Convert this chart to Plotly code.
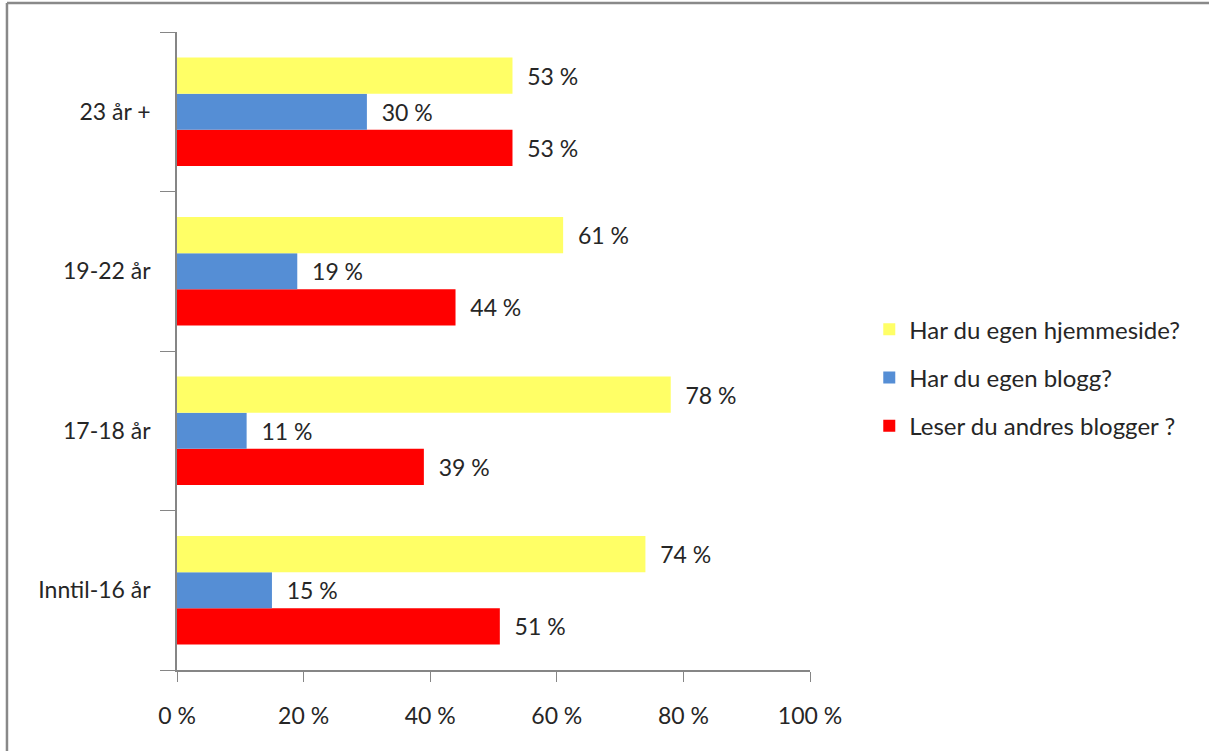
import plotly.graph_objects as go

categories = ["Inntil-16 år", "17-18 år", "19-22 år", "23 år +"]
series_names = ["Har du egen hjemmeside?", "Har du egen blogg?", "Leser du andres blogger ?"]
hjemmeside = [74, 78, 61, 53]
blogg = [15, 11, 19, 30]
leser = [51, 39, 44, 53]
colors = ["#FFFF66", "#558ED5", "#FF0000"]
x_ticks = [0, 20, 40, 60, 80, 100]

FONT = "Lato, Open Sans, sans-serif"
TXT = "#262626"
FS = 23

fig = go.Figure()
# traces added bottom-to-top within each group (red at bottom, yellow on top)
for rank, name, vals, col in [(3, series_names[2], leser, colors[2]),
                              (2, series_names[1], blogg, colors[1]),
                              (1, series_names[0], hjemmeside, colors[0])]:
    fig.add_trace(go.Bar(
        y=categories, x=[v / 100 for v in vals], name=name, orientation="h",
        legendgroup=name, legendrank=rank,
        marker=dict(color=col, line=dict(width=0)),
        text=["\u00a0\u00a0" + f"{v} %" for v in vals],
        textposition="outside", cliponaxis=False,
        textfont=dict(family=FONT, size=FS, color=TXT),
    ))

fig.update_layout(
    width=1209, height=751,
    margin=dict(l=177, r=399, t=32, b=81),
    paper_bgcolor="white", plot_bgcolor="white",
    barmode="group", bargap=0.32, bargroupgap=0,
    font=dict(family=FONT, size=FS, color=TXT),
    showlegend=True,
    legend=dict(traceorder="grouped", xref="container", yref="container",
                x=0.719, y=0.497, xanchor="left", yanchor="middle",
                font=dict(family=FONT, size=24, color=TXT),
                itemsizing="constant", tracegroupgap=14, itemwidth=30,
                bgcolor="rgba(0,0,0,0)"),
    xaxis=dict(range=[0, 1], tickvals=[t / 100 for t in x_ticks],
               ticktext=[f"{t} %" for t in x_ticks],
               showgrid=False, zeroline=False, showline=True, linecolor="#868686",
               linewidth=1.5, ticks="outside", ticklen=10, tickcolor="#868686",
               ticklabelstandoff=15, tickfont=dict(family=FONT, size=FS, color=TXT)),
    yaxis=dict(categoryorder="array", categoryarray=categories,
               showgrid=False, zeroline=False, showline=True, linecolor="#868686",
               linewidth=1.5, ticks="outside", ticklen=15, tickcolor="#868686",
               tickson="boundaries", ticklabelstandoff=20,
               tickfont=dict(family=FONT, size=FS, color=TXT)),
    shapes=[
        dict(type="line", xref="paper", yref="paper", x0=-0.2686, x1=1.7, y0=1.0455, y1=1.0455,
             line=dict(color="#898989", width=2.5)),
        dict(type="line", xref="paper", yref="paper", x0=-0.2686, x1=-0.2686, y0=1.0455, y1=-0.2,
             line=dict(color="#898989", width=2.5)),
    ],
)

fig.write_html("out.html", config={"displayModeBar": False},
               post_script="document.body.style.margin='0';")
